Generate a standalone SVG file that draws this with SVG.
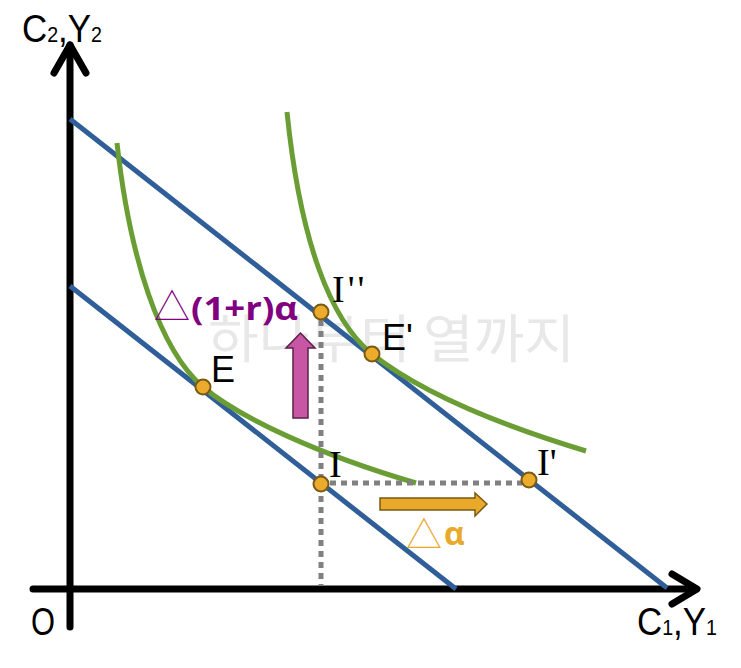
<svg xmlns="http://www.w3.org/2000/svg" width="741" height="668" viewBox="0 0 741 668">
<style>
.axis{stroke:#000;stroke-width:7;fill:none;stroke-linecap:round;stroke-linejoin:round}
.budget{stroke:#2F5E98;stroke-width:5;fill:none}
.indiff{stroke:#6A9E35;stroke-width:5;fill:none}
.dot{stroke:#808080;stroke-width:5;stroke-dasharray:6 5;fill:none}
.pt{fill:#EBAB2C;stroke:#7A5A12;stroke-width:2}
.lbl{font-family:"Liberation Sans","DejaVu Sans",sans-serif;font-size:36px;fill:#000}
.lblI{font-family:"Liberation Serif","DejaVu Serif",serif;font-size:38px;fill:#000}
.ax{font-family:"Liberation Sans","DejaVu Sans",sans-serif;font-size:39px;fill:#000}
.sub{font-size:22px}
.tri{font-family:"Noto Sans CJK KR","DejaVu Sans",sans-serif;font-size:36px;font-weight:300}
.greek{font-family:"Open Sans","DejaVu Sans",sans-serif;font-weight:bold;font-size:32px}
</style>
<rect width="741" height="668" fill="#fff"/>
<text x="208" y="358" font-family="'Noto Sans CJK KR',sans-serif" font-size="52" fill="#E8E8E8" textLength="367" lengthAdjust="spacingAndGlyphs">하나부터 열까지</text>
<g id="axes">
<line class="axis" x1="70" y1="627" x2="70" y2="45"/>
<polyline class="axis" points="54,73 70,45 86,73"/>
<line class="axis" x1="33" y1="589" x2="696" y2="589"/>
<polyline class="axis" points="672,574 697,589 672,604"/>
</g>
<g id="connectors">
<line class="budget" x1="70" y1="119" x2="667" y2="588"/>
<line class="budget" x1="70" y1="286" x2="456" y2="589"/>
<path class="indiff" d="M117,143 C130,260 160,350 203,387 C240,418 320,455 416,483"/>
<path class="indiff" d="M287,112 C300,240 330,320 372,354 C420,392 500,425 586,451"/>
<line class="dot" x1="321" y1="320" x2="321" y2="586"/>
<line class="dot" x1="330" y1="483" x2="522" y2="483"/>
</g>
<g id="arrow-up">
<polygon points="293,418 308,418 308,348 315,348 300.5,333 286,348 293,348" fill="#C955A5" stroke="#5A2048" stroke-width="1.5"/>
</g>
<g id="arrow-right">
<polygon points="380,498 475,498 475,493 487,504 475,516 475,510 380,510" fill="#E9AA2B" stroke="#7A5A12" stroke-width="1.5"/>
</g>
<g id="node-Ipp"><circle class="pt" cx="321" cy="312" r="7.5"/><text class="lblI" x="332" y="302" letter-spacing="3">I''</text></g>
<g id="node-Ep"><circle class="pt" cx="372" cy="354" r="7.5"/><text class="lbl" x="382" y="350">E'</text></g>
<g id="node-E"><circle class="pt" cx="203" cy="387" r="7.5"/><text class="lbl" x="211" y="382">E</text></g>
<g id="node-I"><circle class="pt" cx="321" cy="484" r="7.5"/><text class="lblI" x="329" y="477">I</text></g>
<g id="node-Ip"><circle class="pt" cx="529" cy="480" r="7.5"/><text class="lblI" x="537" y="475">I'</text></g>
<g id="labels">
<text class="tri" x="154" y="320" fill="#800080">△</text>
<text class="greek" x="191" y="320" fill="#800080" textLength="107" lengthAdjust="spacingAndGlyphs">(1+r)α</text>
<text class="tri" x="406" y="548" fill="#E9AA2B">△</text>
<text class="greek" x="444" y="545" fill="#E9AA2B">α</text>
<text class="ax" x="22" y="42" textLength="80" lengthAdjust="spacingAndGlyphs">C<tspan class="sub">2</tspan>,Y<tspan class="sub">2</tspan></text>
<text class="ax" x="637" y="635" textLength="80" lengthAdjust="spacingAndGlyphs">C<tspan class="sub">1</tspan>,Y<tspan class="sub">1</tspan></text>
<text class="ax" x="31" y="635" textLength="24" lengthAdjust="spacingAndGlyphs">O</text>
</g>
</svg>
